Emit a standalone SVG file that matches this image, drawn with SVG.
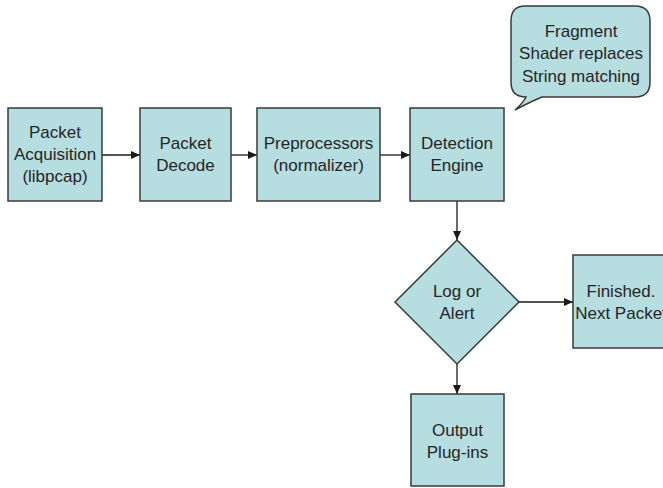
<svg xmlns="http://www.w3.org/2000/svg" width="663" height="488" viewBox="0 0 663 488">
  <style>
    .shape { fill: #b6dde0; stroke: #3a3a3a; stroke-width: 1.5; }
    .label { font-family: "Liberation Sans", Arial, sans-serif; font-size: 17px; fill: #262626; text-anchor: middle; }
    .edge { fill: none; stroke: #1a1a1a; stroke-width: 1.3; }
  </style>
  <defs>
    <marker id="arrow" markerWidth="9" markerHeight="8" refX="9" refY="4" orient="auto" markerUnits="userSpaceOnUse">
      <path d="M0,0 L9,4 L0,8 Z" fill="#1a1a1a"/>
    </marker>
  </defs>
  <rect width="663" height="488" fill="#ffffff"/>

  <g id="connectors">
    <line class="edge" x1="102" y1="155" x2="140" y2="155" marker-end="url(#arrow)"/>
    <line class="edge" x1="231" y1="155" x2="257" y2="155" marker-end="url(#arrow)"/>
    <line class="edge" x1="380" y1="155" x2="410" y2="155" marker-end="url(#arrow)"/>
    <line class="edge" x1="457" y1="201" x2="457" y2="240" marker-end="url(#arrow)"/>
    <line class="edge" x1="519" y1="302" x2="573" y2="302" marker-end="url(#arrow)"/>
    <line class="edge" x1="457" y1="364" x2="457" y2="394" marker-end="url(#arrow)"/>
  </g>

  <g id="packet-acquisition">
    <rect class="shape" x="8" y="108" width="94" height="93"/>
    <text class="label" x="55" y="138">Packet</text>
    <text class="label" x="55" y="160">Acquisition</text>
    <text class="label" x="55" y="182">(libpcap)</text>
  </g>

  <g id="packet-decode">
    <rect class="shape" x="140" y="108" width="91" height="93"/>
    <text class="label" x="185.5" y="149">Packet</text>
    <text class="label" x="185.5" y="171">Decode</text>
  </g>

  <g id="preprocessors">
    <rect class="shape" x="257" y="108" width="123" height="93"/>
    <text class="label" x="318.5" y="149">Preprocessors</text>
    <text class="label" x="318.5" y="171">(normalizer)</text>
  </g>

  <g id="detection-engine">
    <rect class="shape" x="410" y="108" width="94" height="93"/>
    <text class="label" x="457" y="149">Detection</text>
    <text class="label" x="457" y="171">Engine</text>
  </g>

  <g id="log-or-alert">
    <polygon class="shape" points="457,240 519,302 457,364 395,302"/>
    <text class="label" x="457" y="297">Log or</text>
    <text class="label" x="457" y="319">Alert</text>
  </g>

  <g id="finished">
    <rect class="shape" x="573" y="255" width="94" height="93"/>
    <text class="label" x="621" y="297">Finished.</text>
    <text class="label" x="621" y="319">Next Packet</text>
  </g>

  <g id="output-plugins">
    <rect class="shape" x="411" y="394" width="93" height="92"/>
    <text class="label" x="457.5" y="436">Output</text>
    <text class="label" x="457.5" y="458">Plug-ins</text>
  </g>

  <g id="shader-note">
    <path class="shape" d="M525,6 H635 Q650,6 650,21 V82 Q650,97 635,97 H542 Q530,102 515,110 Q523,103 526,97 Q511,97 511,82 V21 Q511,6 525,6 Z"/>
    <text class="label" x="581" y="37">Fragment</text>
    <text class="label" x="581" y="59">Shader replaces</text>
    <text class="label" x="581" y="82">String matching</text>
  </g>
</svg>
